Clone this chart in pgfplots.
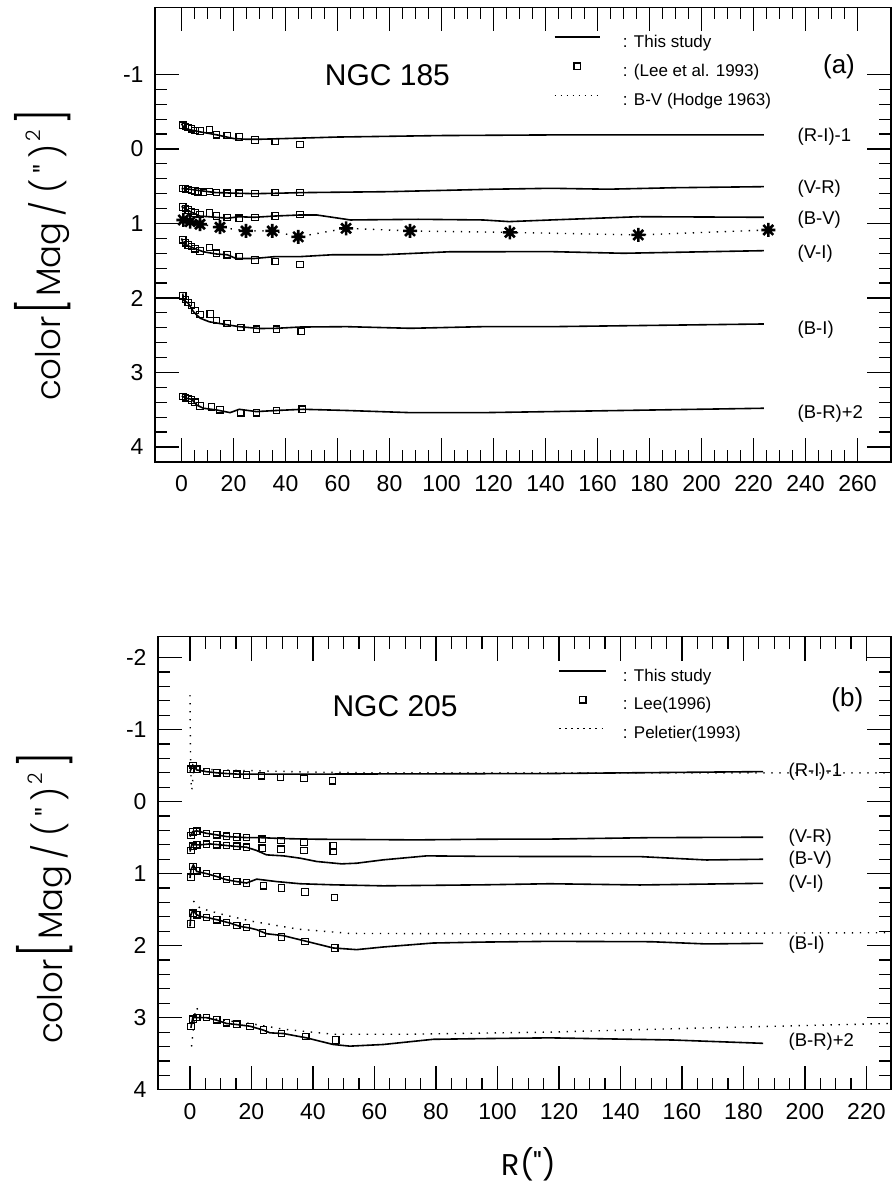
\documentclass[border=0pt]{standalone}
\usepackage{fontspec}
\setmainfont{Liberation Sans}
\newfontfamily\geo{Poppins}
\newfontfamily\geol{Poppins Light}
\usepackage{graphicx}
\usepackage{pgfplots}
\pgfplotsset{compat=1.18}
\pgfdeclareplotmark{star8}{%
 \pgfpathmoveto{\pgfqpoint{0pt}{\pgfplotmarksize}}\pgfpathlineto{\pgfqpoint{0pt}{-\pgfplotmarksize}}%
 \pgfpathmoveto{\pgfqpoint{\pgfplotmarksize}{0pt}}\pgfpathlineto{\pgfqpoint{-\pgfplotmarksize}{0pt}}%
 \pgfpathmoveto{\pgfqpoint{0.707\pgfplotmarksize}{0.707\pgfplotmarksize}}\pgfpathlineto{\pgfqpoint{-0.707\pgfplotmarksize}{-0.707\pgfplotmarksize}}%
 \pgfpathmoveto{\pgfqpoint{0.707\pgfplotmarksize}{-0.707\pgfplotmarksize}}\pgfpathlineto{\pgfqpoint{-0.707\pgfplotmarksize}{0.707\pgfplotmarksize}}%
 \pgfusepathqstroke}
\tikzset{clab/.style={anchor=west, font=\fontsize{9.25}{10}\selectfont}}
\pgfplotsset{
 panel/.style={scale only axis, anchor=north west, y dir=reverse, clip=false,
   axis line style={line width=0.75pt}, tick pos=both,
   major tick length=12pt, minor tick length=6pt,
   every tick/.style={black, line width=0.6pt},
   minor x tick num=3, minor y tick num=4,
   tick label style={font=\fontsize{11.5}{12}\selectfont},
   xticklabel style={yshift=-3.2pt}, yticklabel style={xshift=-2.2pt},
   legend cell align=left},
 thisl/.style={black, line width=0.8pt, mark=none, forget plot},
 lee/.style={black, only marks, mark=square, mark size=1.6pt, mark options={line width=0.6pt}, forget plot},
 hodge/.style={black, line width=0.7pt, dash pattern=on 0.7pt off 3.3pt, mark=star8, mark size=3.5pt, mark options={solid, line width=1.3pt}, forget plot},
 pel/.style={black, line width=0.7pt, dash pattern=on 0.7pt off 3.3pt, mark=none, forget plot},
}
\newcommand{\ylab}{\geol\fontsize{17}{17}\selectfont color\hspace{1pt}{\fontsize{21}{21}\selectfont\raisebox{-0.5pt}{\scalebox{1}[1.2]{[}}}\hspace{1pt}Mag\hspace{3pt}/\hspace{4pt}(\hspace{3pt}"\hspace{3pt})\hspace{1pt}\raisebox{0.6em}{\fontsize{10}{10}\selectfont 2}\hspace{3pt}{\fontsize{21}{21}\selectfont\raisebox{-0.5pt}{\scalebox{1}[1.2]{]}}}}
\begin{document}
\begin{tikzpicture}
\useasboundingbox (0,0) rectangle (446pt,-596pt);
% ---------------- (a) NGC 185 ----------------
\begin{axis}[panel, at={(77.5pt,-3.7pt)}, width=368pt, height=227.25pt,
  xmin=-10.2, xmax=272.9, ymin=-1.9, ymax=4.2,
  xtick={0,20,...,260}, xticklabels={0,20,40,60,80,100,120,140,160,180,200,220,240,260},
  ytick={-1,0,1,2,3,4}, yticklabels={-1,0,1,2,3,4},
  legend style={at={(0.5412,0.8585)}, anchor=west, draw=none, fill=none, inner sep=0pt, row sep=6pt,
    font=\fontsize{8.5}{9}\selectfont, nodes={inner sep=0pt, text height=6.5pt, text depth=2pt}}]
\addlegendimage{legend image code/.code={\path[draw=none] (0pt,0pt) -- (34.2pt,0pt); \draw[black,line width=0.8pt] (0pt,2.8pt) -- (22.5pt,2.8pt);}}
\addlegendentry{: This study}
\addlegendimage{legend image code/.code={\path[draw=none] (0pt,0pt) -- (34.2pt,0pt); \pgfsetlinewidth{0.6pt}\pgfsetplotmarksize{1.6pt}\pgftransformshift{\pgfqpoint{11.35pt}{2.8pt}}\pgfuseplotmark{square}}}
\addlegendentry{: (Lee et al. 1993)}
\addlegendimage{legend image code/.code={\path[draw=none] (0pt,0pt) -- (34.2pt,0pt); \draw[black,line width=0.7pt,dash pattern=on 0.7pt off 2.3pt] (0pt,2.8pt) -- (22.5pt,2.8pt);}}
\addlegendentry{: B-V (Hodge 1963)}
% (R-I)-1
\addplot[thisl] coordinates {(0,-0.34) (1,-0.28) (3,-0.26) (7,-0.23) (13.5,-0.19) (20,-0.14) (25,-0.13) (30,-0.13) (40,-0.14) (60,-0.16) (100,-0.18) (150,-0.19) (190,-0.19) (224,-0.19)};
\addplot[lee] coordinates {(0.5,-0.32) (1.5,-0.30) (2.6,-0.29) (3.9,-0.27) (5.2,-0.25) (7.1,-0.24) (10.7,-0.26) (13.5,-0.19) (17.6,-0.18) (22.2,-0.16) (28.3,-0.12) (36,-0.10) (45.6,-0.06)};
% (V-R)
\addplot[thisl] coordinates {(0,0.53) (3,0.54) (5,0.55) (13,0.585) (22,0.595) (28,0.60) (36,0.595) (46,0.586) (80,0.573) (120,0.54) (142,0.528) (164,0.54) (190,0.52) (224,0.506)};
\addplot[lee] coordinates {(0.5,0.53) (1.5,0.535) (2.6,0.545) (3.9,0.555) (5.2,0.565) (6.4,0.575) (8.4,0.58) (10.7,0.57) (13.5,0.585) (17.6,0.595) (22.2,0.595) (28.3,0.60) (36,0.585) (45.6,0.585)};
% (B-V)
\addplot[thisl] coordinates {(0,0.77) (3.3,0.84) (7,0.90) (10.7,0.91) (17.6,0.93) (22,0.91) (28,0.917) (36,0.90) (45.6,0.886) (52,0.886) (65,0.953) (91,0.944) (116,0.953) (126,0.975) (142,0.953) (176,0.909) (224,0.917)};
\addplot[lee] coordinates {(0.5,0.78) (1.5,0.80) (2.6,0.82) (3.9,0.84) (5.2,0.86) (7.1,0.88) (10.7,0.86) (13.5,0.90) (17.6,0.92) (22.2,0.93) (28.3,0.92) (36,0.90) (45.6,0.877)};
\addplot[hodge] coordinates {(0.7,0.953) (3.3,0.975) (7.1,1.01) (14.8,1.05) (24.8,1.10) (34.9,1.10) (44.9,1.18) (63.3,1.065) (87.9,1.10) (126.3,1.12) (175.7,1.154) (225.7,1.087)};
% (V-I)
\addplot[thisl] coordinates {(0,1.20) (0.7,1.27) (4.5,1.33) (8.4,1.38) (13.5,1.41) (17.6,1.42) (21,1.47) (28,1.47) (36,1.445) (45.6,1.445) (58,1.42) (77,1.42) (103,1.38) (142,1.378) (170,1.40) (224,1.365)};
\addplot[lee] coordinates {(0.5,1.22) (1.5,1.26) (2.6,1.29) (3.9,1.31) (5.2,1.34) (7.1,1.37) (10.7,1.32) (13.5,1.40) (17.6,1.42) (22.2,1.445) (28.3,1.49) (36,1.51) (45.6,1.55)};
% (B-I)
\addplot[thisl] coordinates {(0.5,1.94) (0.7,2.03) (2.6,2.07) (4.5,2.18) (7.1,2.27) (10.7,2.32) (17.6,2.36) (22.2,2.385) (30,2.41) (36.5,2.407) (45.6,2.39) (63.5,2.385) (88,2.407) (116,2.385) (142,2.385) (224,2.349)};
\addplot[lee] coordinates {(0.5,1.97) (1.5,2.02) (2.6,2.06) (3.9,2.10) (5.2,2.17) (7.1,2.22) (11,2.215) (13.5,2.30) (17.6,2.34) (22.8,2.398) (28.8,2.42) (36.5,2.42) (46,2.45)};
% (B-R)+2
\addplot[thisl] coordinates {(0.1,3.315) (2,3.347) (3.9,3.36) (5.8,3.436) (8.4,3.48) (13.5,3.503) (18.7,3.539) (22.2,3.494) (28.8,3.525) (36.5,3.51) (46.8,3.494) (63.5,3.51) (88,3.539) (116,3.539) (142,3.525) (224,3.48)};
\addplot[lee] coordinates {(0.5,3.32) (1.5,3.34) (2.6,3.35) (3.9,3.37) (5.2,3.40) (7.1,3.45) (11.6,3.46) (14.8,3.50) (22.8,3.54) (28.8,3.54) (36.5,3.51) (46.4,3.494)};
\node[clab] at (axis cs:234.3,-0.165) {(R-I)-1};
\node[clab] at (axis cs:234.3,0.528) {(V-R)};
\node[clab] at (axis cs:234.3,0.953) {(B-V)};
\node[clab] at (axis cs:234.3,1.40) {(V-I)};
\node[clab] at (axis cs:234.3,2.42) {(B-I)};
\node[clab] at (axis cs:234.3,3.548) {(B-R)+2};
\node[font=\fontsize{15}{15}\selectfont] at (axis cs:79.2,-0.99) {NGC 185};
\node[font=\fontsize{13}{13}\selectfont] at (axis cs:252.9,-1.105) {(a)};
\end{axis}
% ---------------- (b) NGC 205 ----------------
\begin{axis}[panel, at={(79pt,-318.35pt)}, width=366.5pt, height=226.5pt,
  xmin=-10.4, xmax=228, ymin=-2.29, ymax=4,
  xtick={0,20,...,220}, xticklabels={0,20,40,60,80,100,120,140,160,180,200,220},
  ytick={-2,-1,0,1,2,3,4}, yticklabels={-2,-1,0,1,2,3,4},
  legend style={at={(0.5461,0.8487)}, anchor=west, draw=none, fill=none, inner sep=0pt, row sep=5.7pt,
    font=\fontsize{8.5}{9}\selectfont, nodes={inner sep=0pt, text height=6.5pt, text depth=2pt}}]
\addlegendimage{legend image code/.code={\path[draw=none] (0pt,0pt) -- (31.7pt,0pt); \draw[black,line width=0.8pt] (0pt,2.8pt) -- (23.35pt,2.8pt);}}
\addlegendentry{: This study}
\addlegendimage{legend image code/.code={\path[draw=none] (0pt,0pt) -- (31.7pt,0pt); \pgfsetlinewidth{0.6pt}\pgfsetplotmarksize{1.6pt}\pgftransformshift{\pgfqpoint{11.7pt}{2.8pt}}\pgfuseplotmark{square}}}
\addlegendentry{: Lee(1996)}
\addlegendimage{legend image code/.code={\path[draw=none] (0pt,0pt) -- (31.7pt,0pt); \draw[black,line width=0.7pt,dash pattern=on 0.7pt off 2.3pt] (0pt,2.8pt) -- (23.35pt,2.8pt);}}
\addlegendentry{: Peletier(1993)}
% (R-I)-1
\addplot[thisl] coordinates {(0,-0.416) (0.9,-0.508) (2.2,-0.44) (5.4,-0.416) (8.7,-0.40) (11.9,-0.39) (15.2,-0.383) (18.4,-0.383) (24.9,-0.383) (35.8,-0.383) (46.6,-0.383) (117,-0.39) (186.4,-0.417)};
\addplot[lee] coordinates {(0.3,-0.45) (1,-0.50) (2.2,-0.45) (5.4,-0.42) (8.7,-0.40) (11.9,-0.39) (15.2,-0.38) (18.4,-0.37) (23.3,-0.36) (29.5,-0.337) (37.1,-0.323) (46.4,-0.29)};
\addplot[pel] coordinates {(0,-1.48) (0.1,-1.0) (0.2,-0.55) (0.4,-0.25) (0.6,-0.16) (0.9,-0.30) (1.3,-0.48) (3,-0.45) (10,-0.44) (20,-0.43) (40,-0.41) (60,-0.40) (228,-0.40)};
% (V-R)
\addplot[thisl] coordinates {(0,0.485) (0.9,0.416) (2.2,0.406) (5.4,0.44) (8.7,0.462) (11.9,0.485) (18.4,0.499) (22.8,0.50) (30.4,0.513) (41.2,0.522) (73.7,0.531) (95.4,0.522) (117,0.52) (150,0.50) (186.4,0.494)};
\addplot[lee] coordinates {(0.3,0.47) (1,0.42) (2.2,0.41) (5.4,0.44) (8.7,0.46) (11.9,0.48) (15.2,0.49) (18.4,0.50) (23.5,0.522) (29.6,0.54) (37.1,0.568) (46.6,0.614)};
% (B-V)
\addplot[thisl] coordinates {(0,0.693) (0.6,0.60) (3.3,0.60) (6.5,0.587) (9.8,0.60) (13,0.614) (18.4,0.633) (21.7,0.679) (24.9,0.739) (30.4,0.753) (35.8,0.785) (41.2,0.831) (49.3,0.864) (54.2,0.855) (62.9,0.808) (77,0.753) (95.4,0.76) (117,0.762) (146.3,0.763) (168,0.81) (186.4,0.80)};
\addplot[lee] coordinates {(0.3,0.68) (1,0.62) (2.2,0.60) (5.4,0.59) (8.7,0.60) (11.9,0.61) (15.2,0.62) (18.4,0.633) (23.5,0.647) (29.6,0.66) (37.1,0.68) (46.6,0.69)};
% (V-I)
\addplot[thisl] coordinates {(0,1.06) (0.3,0.947) (1.1,0.878) (2.2,0.97) (5.4,1.0) (8.7,1.04) (11.9,1.085) (15.2,1.11) (18.4,1.13) (21.7,1.076) (28.2,1.11) (35.8,1.14) (46.6,1.155) (62.9,1.169) (95.4,1.155) (117,1.14) (146.3,1.157) (186.4,1.134)};
\addplot[lee] coordinates {(0.3,1.05) (1,0.90) (2.2,0.96) (5.4,1.0) (8.7,1.04) (11.9,1.08) (15.2,1.11) (18.4,1.13) (23.9,1.169) (29.8,1.20) (37.4,1.256) (47,1.33)};
% (B-I)
\addplot[thisl] coordinates {(0,1.732) (0.3,1.57) (0.9,1.51) (2.2,1.57) (3.3,1.594) (6.5,1.617) (9.8,1.65) (13,1.686) (16.3,1.732) (19.5,1.755) (21.7,1.778) (24.9,1.834) (30.4,1.861) (37.9,1.94) (46.6,2.032) (54.2,2.055) (62.9,2.018) (79.1,1.963) (95.4,1.95) (117,1.94) (150,1.945) (168,1.976) (186.4,1.967)};
\addplot[lee] coordinates {(0.3,1.70) (1,1.55) (2.2,1.57) (5.4,1.61) (8.7,1.64) (11.9,1.68) (15.2,1.72) (18.4,1.75) (23.6,1.824) (29.8,1.88) (37.4,1.94) (47.1,2.032)};
\addplot[pel] coordinates {(1.1,1.38) (3.3,1.48) (10,1.56) (20,1.66) (35,1.77) (52,1.83) (100,1.835) (228,1.82)};
% (B-R)+2
\addplot[thisl] coordinates {(0.3,3.14) (0.9,3.0) (2.2,3.0) (5.4,3.0) (8.7,3.035) (11.9,3.08) (15.2,3.095) (19.5,3.118) (23.9,3.173) (26,3.21) (30.4,3.22) (37.9,3.28) (46.6,3.372) (52,3.395) (62.9,3.372) (79.1,3.30) (95.4,3.29) (117,3.28) (157.2,3.31) (186.4,3.356)};
\addplot[lee] coordinates {(0.3,3.12) (1,3.02) (2.2,3.0) (5.4,3.0) (8.7,3.03) (11.9,3.07) (15.2,3.09) (19.5,3.12) (23.9,3.17) (29.8,3.22) (37.7,3.26) (47.4,3.31)};
\addplot[pel] coordinates {(0.5,3.4) (1,3.2) (1.6,2.95) (2.2,2.86) (3.5,2.98) (10,3.03) (19.5,3.08) (30.4,3.16) (46.6,3.23) (70,3.23) (117,3.20) (160,3.15) (228,3.08)};
\node[clab] at (axis cs:192.4,-0.417) {(R-I)-1};
\node[clab] at (axis cs:192.4,0.494) {(V-R)};
\node[clab] at (axis cs:192.4,0.81) {(B-V)};
\node[clab] at (axis cs:192.4,1.134) {(V-I)};
\node[clab] at (axis cs:192.4,1.99) {(B-I)};
\node[clab] at (axis cs:192.4,3.33) {(B-R)+2};
\node[font=\fontsize{15}{15}\selectfont] at (axis cs:66.7,-1.32) {NGC 205};
\node[font=\fontsize{13}{13}\selectfont] at (axis cs:213.8,-1.41) {(b)};
\end{axis}
% axis titles
\node[rotate=90, inner sep=0pt] at (21.5pt,-127.5pt) {\ylab};
\node[rotate=90, inner sep=0pt] at (22.5pt,-449pt) {\ylab};
\node[inner sep=0pt] at (264.5pt,-582pt) {\geo\fontsize{15}{15}\selectfont R(")};
\end{tikzpicture}
\end{document}
